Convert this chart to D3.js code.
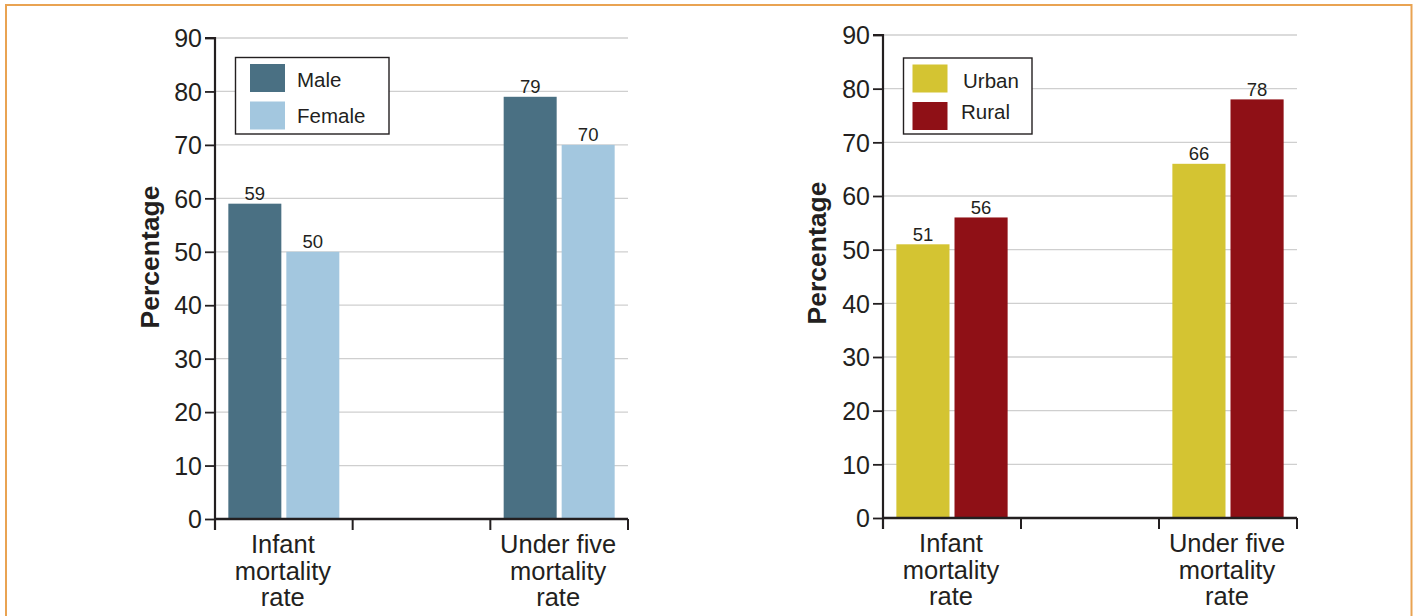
<!DOCTYPE html>
<html>
<head>
<meta charset="utf-8">
<script src="https://cdn.jsdelivr.net/npm/d3@7"></script>
<style>
  html, body { margin: 0; padding: 0; background: #fff; }
  svg { display: block; }
  text { font-family: "Liberation Sans", Arial, Helvetica, sans-serif; fill: #231f20; }
</style>
</head>
<body>
<svg id="chart" width="1416" height="616"></svg>
<script>
// Categories shown on the x axis (an empty slot sits between them)
const categories = ["Infant mortality rate", "", "Under five mortality rate"];
const categoryLines = [["Infant", "mortality", "rate"], [], ["Under five", "mortality", "rate"]];

// Mortality rates by sex
const sexSeries = ["Male", "Female"];
const maleValues = [59, 79];
const femaleValues = [50, 70];

// Mortality rates by residence
const residenceSeries = ["Urban", "Rural"];
const urbanValues = [51, 66];
const ruralValues = [56, 78];

// Y axis ticks
const yTicks = [0, 10, 20, 30, 40, 50, 60, 70, 80, 90];
const yTitle = "Percentage";

const svg = d3.select("#chart");

// Outer frame
svg.append("rect")
  .attr("x", 6).attr("y", 5)
  .attr("width", 1405.5).attr("height", 640)
  .attr("fill", "none")
  .attr("stroke", "#E9A352")
  .attr("stroke-width", 2);

function drawPanel(cfg) {
  const g = svg.append("g");
  const x = d3.scaleBand().domain(categories).range([cfg.x0, cfg.x1]).paddingInner(0).paddingOuter(0);
  const y = d3.scaleLinear().domain([0, 90]).range([cfg.y0, cfg.y1]);
  const inner = d3.scaleBand().domain(cfg.series).range([0, x.bandwidth()])
    .paddingInner(0.086).paddingOuter(0.23);

  // Horizontal gridlines
  g.selectAll("line.grid")
    .data(yTicks.filter(d => d > 0))
    .join("line")
    .attr("class", "grid")
    .attr("x1", cfg.x0).attr("x2", cfg.x1)
    .attr("y1", d => y(d)).attr("y2", d => y(d))
    .attr("stroke", "#cfcfcf")
    .attr("stroke-width", 1.3);

  // Bars
  const rows = [];
  categories.forEach((c, i) => {
    const idx = c === categories[0] ? 0 : (c === categories[2] ? 1 : -1);
    if (idx < 0) return;
    cfg.series.forEach((s, j) => {
      rows.push({ cat: c, series: s, value: cfg.values[j][idx], color: cfg.colors[j] });
    });
  });

  g.selectAll("rect.bar")
    .data(rows)
    .join("rect")
    .attr("class", "bar")
    .attr("x", d => x(d.cat) + inner(d.series))
    .attr("width", inner.bandwidth())
    .attr("y", d => y(d.value))
    .attr("height", d => y(0) - y(d.value))
    .attr("fill", d => d.color);

  // Value labels
  g.selectAll("text.val")
    .data(rows)
    .join("text")
    .attr("class", "val")
    .attr("x", d => x(d.cat) + inner(d.series) + inner.bandwidth() / 2)
    .attr("y", d => y(d.value) - 3.5)
    .attr("text-anchor", "middle")
    .attr("font-size", 18.5)
    .text(d => d.value);

  // Y axis
  const yAxis = d3.axisLeft(y).tickValues(yTicks).tickSize(10).tickPadding(3).tickFormat(d3.format("d"));
  const ya = g.append("g").attr("transform", `translate(${cfg.x0},0)`).call(yAxis);
  ya.select(".domain").attr("stroke", "#231f20").attr("stroke-width", 2.2)
    .attr("d", `M-10,${y(90)}H0V${y(0) + 11}`);
  ya.selectAll(".tick line").attr("stroke", "#231f20").attr("stroke-width", 1.8);
  ya.selectAll(".tick text").attr("font-size", 25).attr("fill", "#231f20")
    .attr("font-family", "'Liberation Sans', Arial, sans-serif").attr("dy", "0.35em");

  // X axis with ticks at band boundaries
  const xa = g.append("g").attr("transform", `translate(0,${y(0)})`);
  xa.append("line")
    .attr("x1", cfg.x0).attr("x2", cfg.x1)
    .attr("stroke", "#231f20").attr("stroke-width", 2.4);
  const bounds = categories.map(c => x(c)).concat([x(categories[categories.length - 1]) + x.bandwidth()]);
  xa.selectAll("line.xt")
    .data(bounds)
    .join("line")
    .attr("class", "xt")
    .attr("x1", d => d).attr("x2", d => d)
    .attr("y1", 0).attr("y2", 11)
    .attr("stroke", "#231f20").attr("stroke-width", 2);

  // Category labels
  categories.forEach((c, i) => {
    const t = g.append("text")
      .attr("text-anchor", "middle")
      .attr("font-size", 25.5)
      .attr("x", x(c) + x.bandwidth() / 2 - 1)
      .attr("y", y(0) + 34);
    categoryLines[i].forEach((line, k) => {
      t.append("tspan")
        .attr("x", x(c) + x.bandwidth() / 2 - 1)
        .attr("dy", k === 0 ? 0 : 26.5)
        .text(line);
    });
  });

  // Y axis title
  g.append("text")
    .attr("transform", `translate(${cfg.titleX},${cfg.titleY}) rotate(-90)`)
    .attr("text-anchor", "middle")
    .attr("font-size", 26.5)
    .attr("font-weight", "bold")
    .text(yTitle);

  // Legend
  const lg = g.append("g");
  lg.append("rect")
    .attr("x", cfg.legend.x).attr("y", cfg.legend.y)
    .attr("width", cfg.legend.w).attr("height", cfg.legend.h)
    .attr("fill", "#fff").attr("stroke", "#231f20").attr("stroke-width", 1.4);
  cfg.series.forEach((s, j) => {
    lg.append("rect")
      .attr("x", cfg.legend.x + cfg.legend.sx)
      .attr("y", cfg.legend.y + 6.5 + j * 37.5)
      .attr("width", 35).attr("height", 28)
      .attr("fill", cfg.colors[j]);
    lg.append("text")
      .attr("x", cfg.legend.x + cfg.legend.tx[j])
      .attr("y", cfg.legend.y + cfg.legend.ty[j])
      .attr("font-size", 20.5)
      .text(s);
  });
}

drawPanel({
  x0: 215, x1: 628, y0: 519, y1: 38,
  series: sexSeries,
  values: [maleValues, femaleValues],
  colors: ["#4A7083", "#A3C7DF"],
  titleX: 159, titleY: 257,
  legend: { x: 235.5, y: 57.5, w: 153.5, h: 76.5, sx: 14.5, tx: [61.5, 61.5], ty: [29.5, 65.5] }
});

drawPanel({
  x0: 883, x1: 1297, y0: 518, y1: 35,
  series: residenceSeries,
  values: [urbanValues, ruralValues],
  colors: ["#D4C432", "#8F1016"],
  titleX: 826, titleY: 253,
  legend: { x: 903.5, y: 58, w: 128.5, h: 76, sx: 9, tx: [59.5, 57.5], ty: [30, 61] }
});
</script>
</body>
</html>
